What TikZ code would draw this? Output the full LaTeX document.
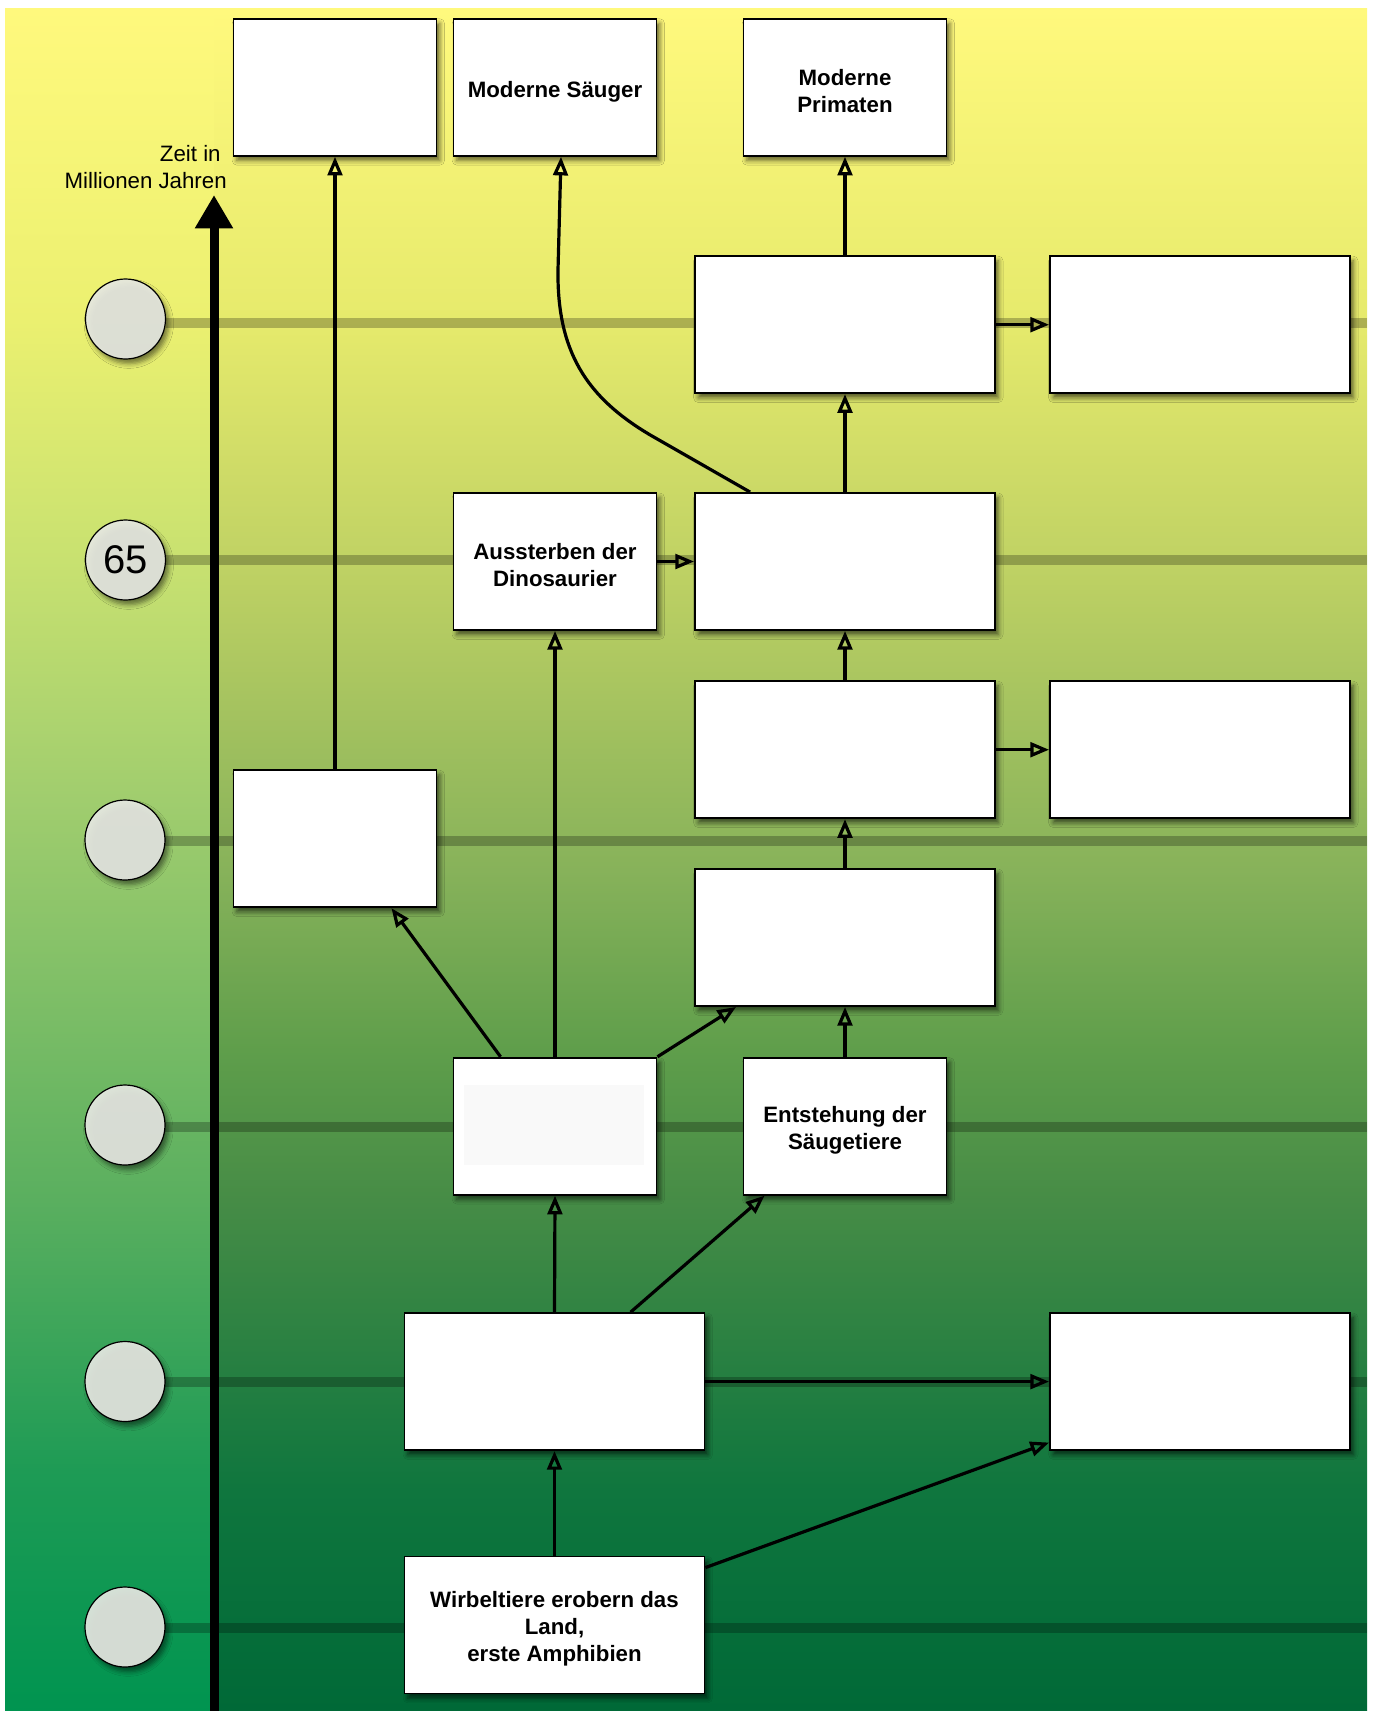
\documentclass[tikz,border=0pt]{standalone}
\usepackage{fontspec}
\setmainfont{Liberation Sans}
\usetikzlibrary{arrows.meta,calc,shadows.blur}

% background colours, bottom to top
\definecolor{lA}{RGB}{0,148,80}
\definecolor{lB}{RGB}{30,155,85}
\definecolor{lC}{RGB}{90,175,95}
\definecolor{lD}{RGB}{160,205,110}
\definecolor{lE}{RGB}{200,225,112}
\definecolor{lF}{RGB}{235,240,112}
\definecolor{lG}{RGB}{255,249,125}
\definecolor{rA}{RGB}{0,105,55}
\definecolor{rB}{RGB}{15,118,62}
\definecolor{rC}{RGB}{70,140,70}
\definecolor{rD}{RGB}{95,158,75}
\definecolor{rE}{RGB}{135,178,90}
\definecolor{rF}{RGB}{192,210,100}
\definecolor{rG}{RGB}{230,234,108}
\definecolor{circfill}{RGB}{230,232,226}

\pgfdeclareverticalshading{leftbg}{100bp}{color(0bp)=(lA); color(25bp)=(lA);
  color(32.08bp)=(lB); color(40bp)=(lC); color(51.75bp)=(lD); color(58.79bp)=(lE);
  color(65.84bp)=(lF); color(75bp)=(lG); color(100bp)=(lG)}
\pgfdeclareverticalshading{rightbg}{100bp}{color(0bp)=(rA); color(25bp)=(rA);
  color(31.49bp)=(rB); color(40bp)=(rC); color(44.41bp)=(rD); color(49.69bp)=(rE);
  color(58.79bp)=(rF); color(65.84bp)=(rG); color(75bp)=(lG); color(100bp)=(lG)}

\tikzset{
  box/.style={rectangle, draw=black, line width=1.4pt, fill=white, inner sep=2pt,
    blur shadow={shadow xshift=2.5pt, shadow yshift=-3.5pt, shadow blur radius=3.5pt,
      shadow opacity=60}},
  smallbox/.style={box, minimum width=152.25pt, minimum height=102.75pt},
  widebox/.style={box, minimum width=225pt, minimum height=102.75pt},
  % box caption, set slightly below the box centre
  boxtextstyle/.style={align=center, inner sep=0pt, yshift=-3pt,
    font=\fontsize{16.7pt}{20.25pt}\selectfont\bfseries},
  txt/.style={label={[boxtextstyle]center:{#1}}},
  conn/.style={line width=2.4pt, black, -{Triangle[open, length=14pt, width=11pt]}},
  band/.style={line width=7.5pt, black, opacity=0.25},
  timecircle/.style={circle, draw=black, line width=0.9pt, minimum size=60pt,
    inner sep=0pt, fill=circfill, fill opacity=0.92, text opacity=1,
    font=\fontsize{30pt}{36pt}\selectfont,
    blur shadow={shadow xshift=2.5pt, shadow yshift=-3.5pt, shadow blur radius=3.5pt,
      shadow opacity=55}},
  axisline/.style={line width=6.75pt, black, -{Triangle[length=25pt, width=27pt]}},
  timelabel/.style={align=right, inner sep=0pt,
    font=\fontsize{16.7pt}{20.25pt}\selectfont},
}

\begin{document}
\begin{tikzpicture}[x=0.75pt, y=-0.75pt]
\useasboundingbox (0,0) rectangle (1374,1711);

% gradient background, darker to the right of the time axis
\shade[shading=leftbg] (5,8) rectangle (214,1711);
\shade[shading=rightbg] (214,8) rectangle (1367,1711);

% horizontal time bands
\draw[band] (165.5,323) -- (1367,323);
\draw[band] (165.5,560) -- (1367,560);
\draw[band] (165,841) -- (1367,841);
\draw[band] (165,1127) -- (1367,1127);
\draw[band] (165,1381.5) -- (1367,1381.5);
\draw[band] (165,1628) -- (1367,1628);

% time markers
\node[timecircle] (c1) at (125.5,319) {};
\node[timecircle] (c2) at (125.5,560) {65};
\node[timecircle] (c3) at (125,840) {};
\node[timecircle] (c4) at (125,1125) {};
\node[timecircle] (c5) at (125,1381.5) {};
\node[timecircle] (c6) at (125,1627) {};

% time axis
\coordinate (axisbot) at (214,1711);
\coordinate (axistop) at (214,195);
\draw[axisline] (axisbot) -- (axistop);
\node[timelabel, anchor=north east] (zeit) at (227,145)
  {Zeit in\hspace*{4.6pt}\\Millionen Jahren};

% event boxes
\node[smallbox] (b1) at (335,87.3) {};
\node[smallbox, txt={Moderne Säuger}] (b2) at (555,87.3) {};
\node[smallbox, txt={Moderne\\Primaten}] (b3) at (845,87.3) {};
\node[widebox] (b4) at (845,324.7) {};
\node[widebox] (b5) at (1200,324.7) {};
\node[smallbox, txt={Aussterben der\\Dinosaurier}] (b6) at (555,561.5) {};
\node[widebox] (b7) at (845,561.5) {};
\node[widebox] (b8) at (845,749.7) {};
\node[widebox] (b9) at (1200,749.7) {};
\node[smallbox] (b10) at (335,838.7) {};
\node[widebox] (b11) at (845,937.5) {};
\node[smallbox] (b12) at (555,1126.2) {};
\node[smallbox, txt={Entstehung der\\Säugetiere}] (b13) at (845,1126.2) {};
\node[widebox] (b14) at (554.5,1381.6) {};
\node[widebox] (b15) at (1200,1381.6) {};
\node[widebox, txt={Wirbeltiere erobern das\\Land,\\erste Amphibien}] (b16) at (554.5,1625) {};

% faint empty text field inside b12
\fill[black!2.5] ($(b12.north west)+(11,28.5)$) rectangle ($(b12.south east)+(-13,-31)$);

% connectors
\draw[conn] (b10.north) -- (b1.south);
\draw[conn] ($(b7.north west)+(56,0)$) -- (652,436)
  .. controls (585,397) and (557,350) .. (558,270) -- ($(b2.south)+(6,0)$);
\draw[conn] (b6.east) -- (b7.west);
\draw[conn] (b7.north) -- (b4.south);
\draw[conn] (b4.north) -- (b3.south);
\draw[conn] (b4.east) -- (b5.west);
\draw[conn] (b8.north) -- (b7.south);
\draw[conn] (b8.east) -- (b9.west);
\draw[conn] (b11.north) -- (b8.south);
\draw[conn] (b13.north) -- (b11.south);
\draw[conn] ($(b12.north west)+(48,0)$) -- ($(b10.south east)+(-46,0)$);
\draw[conn] (b12.north) -- (b6.south);
\draw[conn] (b12.north east) -- ($(b11.south west)+(42,0)$);
\draw[conn] (b14.north) -- (b12.south);
\draw[conn] ($(b14.north west)+(227,0)$) -- ($(b13.south west)+(22,0)$);
\draw[conn] (b14.east) -- (b15.west);
\draw[conn] (b16.north) -- (b14.south);
\draw[conn] ($(b16.north east)+(0,12)$) -- ($(b15.south west)+(0,-8.5)$);
\end{tikzpicture}
\end{document}
